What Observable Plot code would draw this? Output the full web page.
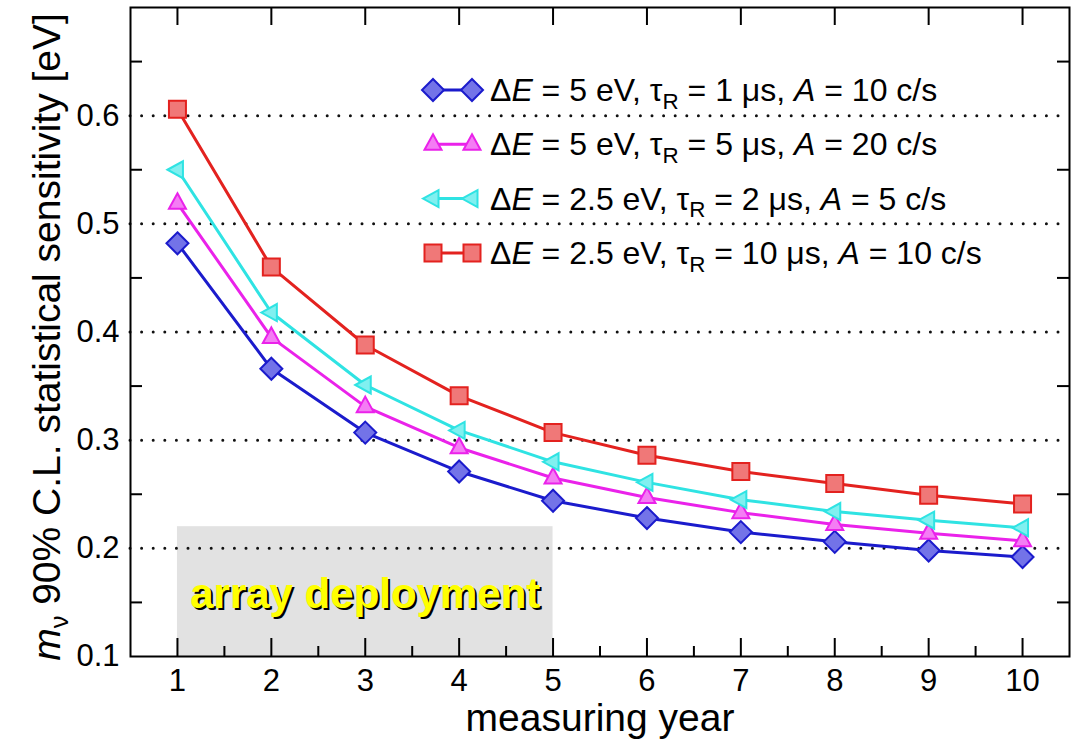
<!DOCTYPE html>
<html>
<head>
<meta charset="utf-8">
<script src="https://cdn.jsdelivr.net/npm/d3@7"></script>
<script src="https://cdn.jsdelivr.net/npm/@observablehq/plot@0.6"></script>
<style>
html,body{margin:0;padding:0;background:#fff;}
svg{display:block;}
</style>
</head>
<body>
<div id="chart"></div>
<script>
// ---------- data ----------
const years = [1, 2, 3, 4, 5, 6, 7, 8, 9, 10];
const sensBlue    = [0.482, 0.366, 0.307, 0.271, 0.244, 0.228, 0.215, 0.206, 0.198, 0.192];
const sensMagenta = [0.519, 0.395, 0.331, 0.293, 0.265, 0.247, 0.233, 0.222, 0.214, 0.207];
const sensCyan    = [0.550, 0.418, 0.351, 0.309, 0.280, 0.261, 0.245, 0.234, 0.226, 0.219];
const sensRed     = [0.606, 0.460, 0.388, 0.341, 0.307, 0.286, 0.271, 0.260, 0.249, 0.241];

const legendDeltaE = ["5", "5", "2.5", "2.5"];
const legendTau    = ["1", "5", "2", "10"];
const legendRate   = ["10", "20", "5", "10"];

const xTickLabels = [1, 2, 3, 4, 5, 6, 7, 8, 9, 10];
const xMinorTicks = [1.5, 2.5, 3.5, 4.5, 5.5, 6.5, 7.5, 8.5, 9.5];
const yTickLabels = [0.1, 0.2, 0.3, 0.4, 0.5, 0.6];
const yGridLines  = [0.2, 0.3, 0.4, 0.5, 0.6];
const yMinorTicks = [0.15, 0.25, 0.35, 0.45, 0.55, 0.65];

const deploymentYears = [1, 5];
const deploymentTop = 0.22;
const deploymentLabel = "array deployment";
const xLabel = "measuring year";

// ---------- styling ----------
const W = 1071, H = 753;
const mL = 130, mR = 2, mT = 7, mB = 97;
const innerW = W - mL - mR, innerH = H - mT - mB;
const FONT = "'Liberation Sans', Arial, Helvetica, sans-serif";

const poly = pts => ({
  draw(ctx, size) {
    const s = Math.sqrt(size / Math.PI);
    ctx.moveTo(pts[0][0] * s, pts[0][1] * s);
    for (let i = 1; i < pts.length; i++) ctx.lineTo(pts[i][0] * s, pts[i][1] * s);
    ctx.closePath();
  }
});
const symDiamond = poly([[0, -11], [11, 0], [0, 11], [-11, 0]]);
const symTriUp   = poly([[0, -10], [8.5, 5.5], [-8.5, 5.5]]);
const symTriLeft = poly([[-10, 0], [5.5, -8.5], [5.5, 8.5]]);
const symSquare  = poly([[-8.5, -8.5], [8.5, -8.5], [8.5, 8.5], [-8.5, 8.5]]);

const series = [
  {values: sensBlue,    stroke: "#1b1bcc", fill: "#7373e8", symbol: symDiamond},
  {values: sensMagenta, stroke: "#ea22ea", fill: "#f47df4", symbol: symTriUp},
  {values: sensCyan,    stroke: "#2fe3e3", fill: "#80f0f0", symbol: symTriLeft},
  {values: sensRed,     stroke: "#e3221f", fill: "#f07878", symbol: symSquare}
];

const marks = [
  // deployment band
  Plot.rect([deploymentYears], {x1: d => d[0], x2: d => d[1], y1: 0.1, y2: deploymentTop, fill: "#e2e2e2"}),
  // dotted grid
  Plot.ruleY(yGridLines, {y: d => d, stroke: "#111", strokeWidth: 3, strokeDasharray: "0,11.6", strokeLinecap: "round"}),
  // deployment label (shadow + yellow)
  Plot.text([deploymentLabel], {x: 3, y: 0.157, text: d => d, fontSize: 42, fontWeight: "bold", fill: "#000", dx: 2, dy: 2}),
  Plot.text([deploymentLabel], {x: 3, y: 0.157, text: d => d, fontSize: 42, fontWeight: "bold", fill: "#ffff00"})
];

for (const s of series) {
  const data = years.map((yr, i) => ({yr, v: s.values[i]}));
  marks.push(Plot.line(data, {x: "yr", y: "v", stroke: s.stroke, strokeWidth: 3}));
}
for (const s of series) {
  const data = years.map((yr, i) => ({yr, v: s.values[i]}));
  marks.push(Plot.dot(data, {x: "yr", y: "v", r: 1, symbol: s.symbol, fill: s.fill, stroke: s.stroke, strokeWidth: 2}));
}

marks.push(
  // ticks
  Plot.tickX(xTickLabels, {x: d => d, insetTop: innerH - 18, stroke: "#000", strokeWidth: 2}),
  Plot.tickX(xTickLabels, {x: d => d, insetBottom: innerH - 18, stroke: "#000", strokeWidth: 2}),
  Plot.tickX(xMinorTicks, {x: d => d, insetTop: innerH - 10, stroke: "#000", strokeWidth: 2}),
  Plot.tickY(yMinorTicks, {y: d => d, insetRight: innerW - 12, stroke: "#000", strokeWidth: 2}),
  Plot.tickY(yMinorTicks, {y: d => d, insetLeft: innerW - 12, stroke: "#000", strokeWidth: 2}),
  Plot.frame({stroke: "#000", strokeWidth: 2}),
  // tick labels
  Plot.text(xTickLabels, {x: d => d, frameAnchor: "bottom", dy: 34, text: d => String(d), fontSize: 31, fill: "#000"}),
  Plot.text(yTickLabels, {y: d => d, frameAnchor: "left", dx: -11, textAnchor: "end", text: d => d.toFixed(1), fontSize: 31, fill: "#000"}),
  // x axis label
  Plot.text([xLabel], {frameAnchor: "bottom", dy: 74, text: d => d, fontSize: 39, fill: "#000"})
);

const plot = Plot.plot({
  width: W, height: H,
  marginLeft: mL, marginRight: mR, marginTop: mT, marginBottom: mB,
  x: {domain: [0.5, 10.5], axis: null},
  y: {domain: [0.1, 0.7], axis: null},
  style: {fontFamily: FONT, background: "#fff", overflow: "visible"},
  marks
});

const svg = d3.select(plot);

// y axis label with italic m and subscript nu
const yl = svg.append("text")
  .attr("transform", "translate(60,337) rotate(-90)")
  .attr("text-anchor", "middle")
  .attr("font-family", FONT)
  .attr("font-size", 39)
  .attr("fill", "#000");
yl.append("tspan").attr("font-style", "italic").text("m");
yl.append("tspan").attr("font-size", "0.65em").attr("dy", "0.3em").text("ν");
yl.append("tspan").attr("dy", "-0.195em").text(" 90% C.L. statistical sensitivity [eV]");

// legend
const legend = svg.append("g").attr("font-family", FONT).attr("font-size", 32)
  .attr("fill", "#000").attr("text-anchor", "start");
series.forEach((s, i) => {
  const cy = 90 + i * 54.3;
  const g = legend.append("g");
  g.append("line").attr("x1", 433).attr("x2", 472).attr("y1", cy).attr("y2", cy)
    .attr("stroke", s.stroke).attr("stroke-width", 3);
  const path = d3.symbol(s.symbol, Math.PI)();
  [433, 472].forEach(x => {
    g.append("path").attr("d", path).attr("transform", `translate(${x},${cy})`)
      .attr("fill", s.fill).attr("stroke", s.stroke).attr("stroke-width", 2);
  });
  const t = g.append("text").attr("x", 490).attr("y", cy + 11).attr("text-anchor", "start");
  t.append("tspan").text("Δ");
  t.append("tspan").attr("font-style", "italic").text("E");
  t.append("tspan").text(` = ${legendDeltaE[i]} eV, τ`);
  t.append("tspan").attr("font-size", "0.7em").attr("dy", "0.35em").text("R");
  t.append("tspan").attr("dy", "-0.245em").text(` = ${legendTau[i]} μs, `);
  t.append("tspan").attr("font-style", "italic").text("A");
  t.append("tspan").text(` = ${legendRate[i]} c/s`);
});

document.getElementById("chart").appendChild(plot);
</script>
</body>
</html>
